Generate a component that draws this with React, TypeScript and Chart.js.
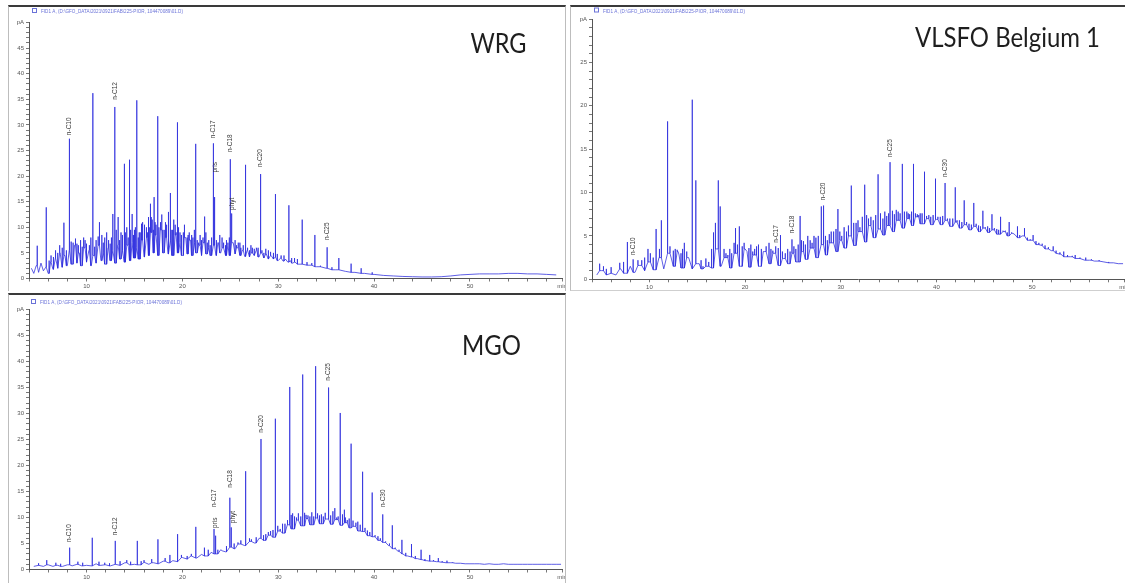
import React, { useEffect, useRef } from "react";
import { Chart, registerables } from "chart.js";

Chart.register(...registerables);
Chart.defaults.font.family = "Liberation Sans";

// ---------- shared axis values ----------
const X_MIN = 4;
const X_MAX = 59.6;
const HEADER = "FID1 A, (D:\\GFO_DATA\\2021\\0921\\FAB\\225-PIOR, 104470089\\01.D)";

// ---------- WRG ----------
const wrgNoiseStart = 4.25;
const wrgNoiseStep = 0.25;
const wrgNoise = [
  2.0, 1.0, 2.5, 1.2, 3.0, 1.5, 2.2, 1.0, 3.2, 1.8,
  4.0, 2.0, 5.0, 2.2, 4.5, 2.5, 5.5, 2.8, 6.5, 3.0,
  5.0, 2.5, 6.0, 3.2, 5.5, 2.5, 4.5, 3.0, 6.5, 3.5,
  5.0, 2.8, 6.0, 3.5, 5.5, 3.0, 6.5, 3.8, 5.5, 3.2,
  6.5, 3.5, 7.0, 4.0, 6.0, 3.8, 7.5, 4.2, 8.0, 4.5,
  9.0, 5.0, 8.5, 4.5, 9.5, 5.0, 8.0, 4.8, 7.5, 4.5,
  8.5, 5.0, 7.0, 4.5, 8.0, 4.8, 7.5, 4.5, 7.0, 5.0,
  6.5, 4.5, 7.0, 4.8, 6.0, 4.5, 6.5, 4.5, 7.0, 5.0,
  6.0, 4.5, 6.5, 4.5, 7.0, 4.8, 6.0, 4.5, 5.5, 4.3,
  5.5, 4.2, 5.0, 4.5, 6.0, 4.2, 5.0, 4.0, 4.8, 3.8,
  4.5, 3.8, 4.2, 3.5, 4.0, 3.4, 3.8, 3.2, 3.5, 3.0,
  3.2, 2.8,
];
const wrgTailStart = 33;
const wrgTailStep = 1;
const wrgTail = [
  2.6, 2.3, 2.0, 1.7, 1.4, 1.2, 1.0, 0.8, 0.6, 0.5, 0.4, 0.35, 0.3, 0.3,
  0.35, 0.5, 0.7, 0.8, 0.9, 0.9, 0.9, 1.0, 1.0, 0.9, 0.9, 0.8, 0.7,
];
const wrgPeakT = [
  4.86, 5.8, 6.3, 6.77, 7.2, 7.64, 8.2, 8.6, 8.85, 9.15, 9.38, 9.7, 10.0,
  10.66, 11.0, 11.35, 11.6, 11.9, 12.3, 12.74, 12.95, 13.3, 13.6, 13.93,
  14.2, 14.48, 14.76, 15.0, 15.24, 15.5, 15.73, 16.0, 16.25, 16.45, 16.67,
  16.85, 17.05, 17.25, 17.43, 17.7, 17.95, 18.23, 18.5, 18.75, 19.0, 19.25,
  19.48, 19.75, 20.1, 20.35, 20.6, 20.85, 21.1, 21.39, 21.7, 22.0, 22.32,
  22.6, 22.9, 23.23, 23.36, 23.7, 24.14, 24.5, 24.75, 25.0, 25.14, 25.5,
  25.83, 26.1, 26.59, 27.0, 27.3, 27.7, 28.16, 28.5, 28.96, 29.69, 30.3,
  31.11, 31.7, 32.5, 33.82, 35.1, 36.32, 37.6, 38.65, 39.8,
];
const wrgPeakV = [
  6.4, 13.9, 4.5, 5.5, 6.5, 10.9, 27.3, 7.0, 7.8, 6.5, 7.5, 8.0, 6.8,
  36.2, 7.5, 11.0, 8.5, 8.0, 7.5, 12.6, 33.5, 12.0, 9.0, 22.4,
  10.0, 23.2, 12.6, 9.5, 34.8, 9.0, 10.7, 9.5, 10.0, 12.0, 14.6,
  11.5, 15.9, 10.5, 31.7, 11.0, 9.5, 11.0, 10.0, 16.7, 9.5, 10.5,
  30.5, 9.0, 9.0, 8.0, 8.5, 7.5, 8.0, 26.3, 7.0, 7.5, 12.1,
  7.0, 6.5, 26.4, 15.9, 7.0, 8.0, 6.5, 7.0, 23.3, 12.7, 7.5,
  7.0, 6.0, 22.2, 5.5, 6.0, 5.5, 20.4, 5.0, 5.5, 16.5, 4.5,
  14.3, 4.0, 11.5, 8.5, 6.1, 4.0, 2.9, 2.0, 1.2,
];
// unresolved small peaks ("grass")
const wrgGrassT = [
  6.1, 6.55, 7.0, 7.45, 7.9, 8.4, 9.0, 9.55, 9.85, 10.3, 10.45, 10.85,
  11.2, 11.75, 12.1, 12.45, 12.6, 13.1, 13.45, 13.75, 14.05, 14.35, 14.6,
  14.9, 15.1, 15.4, 15.6, 15.85, 16.1, 16.35, 16.55, 16.75, 16.95, 17.15,
  17.55, 17.85, 18.1, 18.35, 18.6, 18.9, 19.1, 19.35, 19.6, 19.9, 20.2,
  20.5, 20.7, 20.95, 21.25, 21.55, 21.85, 22.15, 22.45, 22.75, 23.05,
  23.55, 23.9, 24.3, 24.6, 24.9, 25.3, 25.65, 26.0, 26.35, 26.8, 27.15,
  27.5, 27.9, 28.3, 28.7, 29.2, 29.5, 29.9, 30.6, 31.4, 32.0, 33.0, 33.5,
  34.4, 35.6,
];
const wrgGrassV = [
  3.5, 4.2, 5.0, 6.0, 5.5, 7.2, 6.8, 6.2, 7.5, 6.5, 8.0, 6.2,
  8.2, 7.0, 9.0, 6.8, 8.0, 9.5, 7.5, 8.5, 9.0, 8.0, 9.5,
  8.5, 10.0, 8.0, 9.0, 11.0, 10.5, 9.0, 10.0, 12.0, 9.5, 11.0,
  10.0, 12.5, 9.5, 10.5, 13.0, 9.5, 11.5, 9.0, 10.0, 8.5, 10.5,
  8.0, 9.0, 8.5, 9.5, 7.5, 8.5, 8.0, 9.0, 7.5, 8.0,
  7.5, 8.5, 7.0, 7.5, 8.0, 7.0, 6.5, 7.0, 6.5, 6.0, 6.5,
  5.8, 6.0, 5.5, 5.8, 5.2, 5.0, 4.8, 4.5, 4.0, 3.8, 3.2, 3.0,
  2.5, 2.2,
];
const wrgLabelText = ["n-C10", "n-C12", "n-C17", "pris", "n-C18", "phyt", "n-C20", "n-C25"];
const wrgLabelT = [8.2, 12.95, 23.23, 23.45, 25.0, 25.2, 28.16, 35.1];
const wrgLabelV = [28.0, 34.9, 27.4, 20.7, 24.7, 13.4, 21.8, 7.5];

// ---------- VLSFO Belgium 1 ----------
const vlsBaseStart = 4.5;
const vlsBaseStep = 0.5;
const vlsBase = [
  0.5, 1.0, 0.5, 0.7, 0.5, 1.2, 0.7, 1.5, 0.8, 1.6,
  1.0, 2.0, 1.1, 2.5, 1.2, 3.0, 1.5, 3.2, 1.3, 2.5,
  1.2, 1.8, 1.2, 1.5, 1.3, 3.5, 1.5, 2.5, 1.3, 3.0,
  1.5, 3.5, 1.4, 2.8, 1.5, 3.2, 1.8, 3.0, 1.6, 2.4,
  1.8, 3.0, 2.0, 3.2, 2.3, 3.6, 2.5, 4.0, 2.8, 4.2,
  3.2, 4.5, 3.6, 5.0, 3.9, 5.5, 4.3, 6.2, 4.8, 5.8,
  5.1, 6.2, 5.5, 6.8, 5.9, 7.0, 6.2, 7.2, 6.4, 7.0,
  6.3, 6.9, 6.3, 6.8, 6.1, 6.6, 5.9, 6.3, 5.7, 6.1,
  5.5, 5.9, 5.4, 5.7, 5.2, 5.5, 5.0, 5.3, 4.8, 5.0,
  4.5, 4.5, 4.0, 3.9, 3.5, 3.3, 3.0, 2.9, 2.6, 2.6,
  2.4, 2.4, 2.2, 2.2, 2.1, 2.1, 2.0, 1.9, 1.9, 1.8,
  1.8,
];
const vlsPeakT = [
  4.8, 5.5, 6.9, 7.7, 8.3, 9.2, 9.85, 10.4, 10.7, 11.05, 11.25, 11.9, 12.15,
  12.5, 12.9, 13.3, 13.65, 14.1, 14.47, 14.85, 15.2, 15.6, 16.2, 16.7, 16.9,
  17.2, 17.4, 17.8, 18.2, 18.6, 19.0, 19.4, 19.7, 20.0, 20.4, 20.8, 21.2,
  21.7, 22.5, 22.9, 23.2, 23.7, 24.2, 24.9, 25.3, 25.75, 26.1, 26.55, 27.0,
  27.4, 27.95, 28.2, 28.6, 29.0, 29.7, 30.1, 30.6, 31.1, 31.6, 32.0, 32.5,
  32.9, 33.4, 33.9, 34.4, 34.8, 35.15, 35.6, 36.0, 36.4, 36.9, 37.2, 37.6,
  38.0, 38.3, 38.75, 39.2, 39.9, 40.4, 40.9, 41.4, 41.95, 42.4, 42.9, 43.9,
  44.85, 45.8, 46.7, 47.6, 48.45, 49.2, 50.1, 51.05, 52.2, 53.3, 54.5, 55.6,
];
const vlsPeakV = [
  1.8, 1.2, 1.9, 4.3, 2.3, 2.2, 3.5, 2.5, 5.8, 3.5, 6.8, 18.2, 3.8,
  3.3, 3.4, 3.0, 4.2, 2.5, 20.7, 11.4, 1.8, 1.5, 2.0, 5.4, 6.5,
  11.4, 8.4, 3.5, 2.8, 3.0, 5.9, 6.1, 3.8, 3.5, 3.6, 3.2, 3.8,
  3.5, 4.2, 3.3, 3.8, 5.1, 3.0, 4.6, 3.5, 7.3, 4.4, 5.0, 4.2,
  4.8, 8.4, 8.5, 4.5, 5.5, 8.1, 5.0, 5.5, 10.8, 6.5, 6.0, 10.9,
  7.0, 6.8, 12.1, 7.0, 7.3, 13.5, 7.5, 7.8, 13.3, 7.8, 7.5, 13.3,
  7.5, 7.6, 12.4, 7.4, 11.6, 7.2, 11.1, 7.0, 10.6, 6.8, 9.1, 8.8,
  7.9, 7.5, 7.2, 6.6, 6.1, 5.9, 5.1, 4.1, 3.8, 3.2, 2.8, 2.5,
];
const vlsGrassT = [
  5.2, 6.0, 7.3, 8.8, 9.5, 10.1, 12.7, 13.1, 13.45, 13.9, 15.4, 15.9, 16.5,
  18.0, 18.4, 18.85, 19.2, 19.9, 20.2, 20.6, 21.0, 21.4, 21.9, 22.2, 22.7,
  23.45, 23.9, 24.45, 24.7, 25.1, 25.55, 25.9, 26.3, 26.8, 27.2, 27.65,
  28.4, 28.8, 29.25, 29.5, 29.9, 30.35, 30.8, 31.35, 31.8, 32.25, 32.7,
  33.15, 33.65, 34.15, 34.6, 35.0, 35.4, 35.8, 36.2, 36.65, 37.05, 37.4,
  37.8, 38.15, 38.5, 38.95, 39.4, 39.65, 40.15, 40.65, 41.15, 41.7, 42.15,
  42.65, 43.15, 43.4, 43.65, 44.15, 44.4, 44.6, 45.1, 45.35, 45.55, 46.05,
  46.3, 46.5, 46.95, 47.2, 47.4, 47.85, 48.1, 48.25, 48.7, 48.95, 49.5,
  49.8, 50.4, 50.7, 51.35, 51.7, 52.5, 52.9, 53.7, 54.2, 55.0, 56.2, 57.0,
  58.0,
];
const vlsGrassV = [
  1.5, 1.4, 2.0, 2.2, 2.5, 3.0, 3.5, 2.8, 3.5, 3.2, 2.2, 2.4, 3.5,
  3.0, 3.5, 4.2, 4.0, 4.2, 3.2, 4.0, 3.5, 4.0, 3.2, 3.8, 3.5,
  3.6, 3.2, 3.5, 3.2, 3.8, 4.0, 4.5, 4.0, 4.5, 5.0, 5.0,
  5.0, 5.2, 5.5, 5.8, 5.5, 6.0, 6.2, 6.5, 6.8, 7.2, 7.4,
  7.2, 7.4, 7.6, 7.8, 7.6, 7.9, 8.0, 7.6, 7.8, 7.6, 7.8,
  7.6, 7.4, 7.6, 7.3, 7.2, 7.4, 7.2, 7.3, 7.0, 7.0, 6.8,
  6.6, 6.6, 6.4, 6.3, 6.4, 6.2, 6.1, 6.0, 6.1, 5.9, 5.9,
  5.8, 5.7, 5.6, 5.6, 5.4, 5.4, 5.3, 5.1, 5.1, 5.0, 4.8,
  4.6, 4.4, 4.2, 3.9, 3.7, 3.3, 3.1, 2.8, 2.7, 2.5, 2.3, 2.2,
  2.0,
];
const vlsLabelText = ["n-C10", "n-C17", "n-C18", "n-C20", "n-C25", "n-C30"];
const vlsLabelT = [8.3, 23.2, 24.9, 28.2, 35.15, 40.9];
const vlsLabelV = [2.8, 4.2, 5.3, 9.1, 14.1, 11.8];

// ---------- MGO ----------
const mgoBaseStart = 4.5;
const mgoBaseStep = 0.5;
const mgoBase = [
  0.6, 0.8, 0.6, 0.9, 0.6, 0.8, 0.6, 0.9, 0.7, 1.0,
  0.7, 0.8, 0.7, 1.1, 0.8, 0.9, 0.7, 1.0, 0.8, 1.3,
  0.9, 1.0, 0.9, 1.4, 1.0, 1.3, 1.1, 1.6, 1.3, 1.7,
  1.5, 2.3, 2.0, 2.6, 2.2, 2.9, 2.6, 3.3, 3.0, 3.8,
  3.4, 4.3, 4.0, 4.9, 4.6, 5.4, 5.1, 6.0, 5.6, 6.6,
  6.2, 7.4, 7.0, 8.6, 7.8, 9.5, 8.4, 9.8, 8.6, 9.9,
  8.8, 9.7, 8.7, 9.6, 8.5, 9.0, 8.0, 8.3, 7.4, 7.3,
  6.5, 6.3, 5.6, 5.2, 4.6, 4.0, 3.5, 3.0, 2.6, 2.4,
  2.1, 1.9, 1.7, 1.6, 1.5, 1.4, 1.3, 1.3, 1.2, 1.2,
  1.1, 1.1, 1.1, 1.1, 1.0, 1.1, 1.0, 1.0, 1.1, 1.0,
  1.0, 1.0, 1.0, 1.0, 1.0, 1.0, 1.0, 1.0, 1.0, 1.0,
  1.0,
];
const mgoPeakT = [
  5.0, 5.85, 6.8, 8.24, 9.1, 9.6, 10.6, 11.3, 11.9, 13.0, 13.5, 14.2, 14.6,
  15.3, 16.0, 16.8, 17.45, 18.7, 19.5, 20.5, 21.4, 22.3, 23.3, 23.45, 24.15,
  24.95, 25.1, 25.8, 26.6, 27.2, 27.7, 28.2, 28.7, 29.2, 29.7, 30.2, 30.7,
  31.2, 31.5, 31.9, 32.55, 32.9, 33.3, 33.9, 34.3, 34.7, 35.25, 35.7, 36.1,
  36.45, 36.9, 37.2, 37.6, 38.1, 38.8, 39.3, 39.8, 40.4, 40.9, 41.9, 42.9,
  43.9, 44.9, 45.8, 46.7, 47.6,
];
const mgoPeakV = [
  1.2, 1.8, 1.3, 4.2, 1.5, 1.3, 6.1, 1.5, 1.3, 5.5, 1.6, 1.8, 1.5,
  5.5, 1.8, 2.0, 5.8, 2.8, 6.8, 2.6, 8.2, 4.2, 7.8, 6.5, 3.6,
  13.8, 8.1, 5.2, 18.9, 5.8, 6.2, 25.1, 6.8, 7.4, 29.0, 7.8, 8.8,
  35.1, 10.8, 10.0, 37.5, 10.5, 10.2, 39.1, 10.4, 10.2, 35.0, 11.2, 10.0,
  30.1, 11.5, 9.5, 24.2, 9.0, 18.8, 7.5, 14.8, 6.4, 10.6, 8.5, 5.7,
  4.9, 3.8, 2.8, 2.2, 1.7,
];
const mgoGrassT = [
  7.3, 12.4, 15.7, 18.2, 19.9, 20.9, 22.7, 23.7, 24.6, 25.4, 26.1, 27.0,
  28.45, 28.95, 29.45, 29.95, 30.45, 30.95, 31.35, 31.7, 32.1, 32.35, 32.75,
  33.1, 33.5, 33.7, 34.1, 34.5, 34.9, 35.45, 35.9, 36.25, 36.7, 37.0, 37.4,
  37.8, 38.3, 38.55, 39.05, 39.55, 40.1, 40.65, 41.2, 41.6, 42.2, 42.6,
  43.3, 44.3, 45.3, 46.2, 47.1, 48.2,
];
const mgoGrassV = [
  1.1, 1.2, 1.6, 2.2, 2.8, 3.0, 3.8, 3.8, 4.5, 5.0, 5.6, 6.0,
  6.6, 7.2, 7.6, 8.4, 8.8, 9.5, 10.5, 10.2, 10.8, 10.2, 10.9,
  10.4, 11.0, 10.2, 10.8, 10.6, 10.9, 10.4, 11.8, 10.2, 10.6, 10.0, 9.8,
  9.4, 9.2, 8.6, 8.0, 7.2, 6.6, 6.0, 5.4, 5.0, 4.2, 3.8,
  3.2, 2.6, 2.0, 1.8, 1.6, 1.4,
];
const mgoLabelText = ["n-C10", "n-C12", "n-C17", "pris", "n-C18", "phyt", "n-C20", "n-C25", "n-C30"];
const mgoLabelT = [8.24, 13.0, 23.3, 23.45, 24.95, 25.3, 28.2, 35.25, 40.9];
const mgoLabelV = [5.3, 6.6, 12.0, 8.0, 15.7, 8.9, 26.3, 36.3, 12.0];

// ---------- helpers ----------
type Pt = { x: number; y: number; o: number };

function sampleTimes(start: number, step: number, n: number) {
  const out: number[] = [];
  for (let i = 0; i < n; i++) out.push(+(start + i * step).toFixed(3));
  return out;
}

function buildTrace(baseT: number[], baseV: number[], peakT: number[], peakV: number[]) {
  const pts: Pt[] = [];
  baseT.forEach((t, i) => pts.push({ x: t, y: baseV[i], o: 0 }));
  peakT.forEach((t, i) => {
    let b = 0;
    for (let j = 1; j < baseT.length; j++) {
      if (Math.abs(baseT[j] - t) < Math.abs(baseT[b] - t)) b = j;
    }
    const base = Math.min(baseV[b], peakV[i]);
    pts.push({ x: t, y: base, o: 1 }, { x: t, y: peakV[i], o: 2 }, { x: t, y: base, o: 3 });
  });
  pts.sort((a, b) => a.x - b.x || a.o - b.o);
  return pts.map((p) => ({ x: p.x, y: p.y }));
}

type PanelCfg = {
  left: number;
  top: number;
  width: number;
  height: number;
  pad: { left: number; right: number; top: number; bottom: number };
  yAxisW: number;
  xAxisH: number;
  yMax: number;
  data: { x: number; y: number }[];
  labelText: string[];
  labelT: number[];
  labelV: number[];
  title: string;
  titleX: number;
  titleY: number;
  titleW: number;
  hdrX: number;
  hdrY: number;
  frame: React.CSSProperties;
};

const wrgT = [
  ...sampleTimes(wrgNoiseStart, wrgNoiseStep, wrgNoise.length),
  ...sampleTimes(wrgTailStart, wrgTailStep, wrgTail.length),
];
const wrgV = [...wrgNoise, ...wrgTail];

const panels: PanelCfg[] = [
  {
    left: 8, top: 5, width: 558, height: 286,
    pad: { left: 3, right: 4, top: 17.5, bottom: 0.5 },
    yAxisW: 18, xAxisH: 12, yMax: 50,
    data: buildTrace(wrgT, wrgV, [...wrgPeakT, ...wrgGrassT], [...wrgPeakV, ...wrgGrassV]),
    labelText: wrgLabelText, labelT: wrgLabelT, labelV: wrgLabelV,
    title: "WRG", titleX: 462.5, titleY: 48, titleW: 56,
    hdrX: 24, hdrY: 3,
    frame: {
      borderTop: "2px solid #3a3a3a",
      borderLeft: "1px solid #bdbdbd",
      borderRight: "1px solid #bdbdbd",
    },
  },
  {
    left: 570, top: 5, width: 555, height: 286,
    pad: { left: 4, right: 1, top: 14, bottom: 0 },
    yAxisW: 18, xAxisH: 11.7, yMax: 30,
    data: buildTrace(
      sampleTimes(vlsBaseStart, vlsBaseStep, vlsBase.length),
      vlsBase,
      [...vlsPeakT, ...vlsGrassT],
      [...vlsPeakV, ...vlsGrassV]
    ),
    labelText: vlsLabelText, labelT: vlsLabelT, labelV: vlsLabelV,
    title: "VLSFO Belgium 1", titleX: 345, titleY: 41.7, titleW: 185,
    hdrX: 24, hdrY: 2.5,
    frame: {
      borderTop: "2px solid #3a3a3a",
      borderLeft: "1px solid #bdbdbd",
      borderBottom: "1px solid #cfcfcf",
    },
  },
  {
    left: 8, top: 293, width: 558, height: 290,
    pad: { left: 3, right: 4, top: 16.5, bottom: 1.5 },
    yAxisW: 18, xAxisH: 12, yMax: 50,
    data: buildTrace(
      sampleTimes(mgoBaseStart, mgoBaseStep, mgoBase.length),
      mgoBase,
      [...mgoPeakT, ...mgoGrassT],
      [...mgoPeakV, ...mgoGrassV]
    ),
    labelText: mgoLabelText, labelT: mgoLabelT, labelV: mgoLabelV,
    title: "MGO", titleX: 454, titleY: 62, titleW: 59,
    hdrX: 23, hdrY: 6,
    frame: {
      borderTop: "2px solid #3a3a3a",
      borderLeft: "1px solid #bdbdbd",
      borderRight: "1px solid #bdbdbd",
    },
  },
];

function Panel({ cfg }: { cfg: PanelCfg }) {
  const ref = useRef<HTMLCanvasElement>(null);

  useEffect(() => {
    const canvas = ref.current;
    if (!canvas) return;

    const decor = {
      id: "decor",
      afterDraw(chart: any) {
        const ctx: CanvasRenderingContext2D = chart.ctx;
        const xs = chart.scales.x;
        const ys = chart.scales.y;
        ctx.save();
        // header line
        ctx.strokeStyle = "#6a72d8";
        ctx.lineWidth = 1;
        ctx.strokeRect(cfg.hdrX + 0.5, cfg.hdrY + 0.5, 4, 4);
        ctx.fillStyle = "#6a72d8";
        ctx.font = "5.5px 'Liberation Sans'";
        ctx.textBaseline = "alphabetic";
        ctx.textAlign = "left";
        ctx.fillText(HEADER, cfg.hdrX + 9, cfg.hdrY + 5, 142);
        // title
        ctx.fillStyle = "#1e1e1e";
        ctx.font = "27px Lato";
        ctx.fillText(cfg.title, cfg.titleX, cfg.titleY, cfg.titleW);
        // peak labels
        ctx.fillStyle = "#3a3a3a";
        ctx.font = "6.5px 'Liberation Sans'";
        ctx.textBaseline = "middle";
        cfg.labelText.forEach((txt, i) => {
          const px = xs.getPixelForValue(cfg.labelT[i]);
          const py = ys.getPixelForValue(cfg.labelV[i]);
          ctx.save();
          ctx.translate(px, py);
          ctx.rotate(-Math.PI / 2);
          ctx.fillText(txt, 0, 0);
          ctx.restore();
        });
        ctx.restore();
      },
    };

    const chart = new Chart(canvas, {
      type: "line",
      data: {
        datasets: [
          {
            data: cfg.data,
            borderColor: "rgba(40,40,220,0.75)",
            borderWidth: 1,
            pointRadius: 0,
            tension: 0,
            fill: false,
          },
        ],
      },
      options: {
        animation: false,
        responsive: false,
        maintainAspectRatio: false,
        layout: { padding: cfg.pad },
        plugins: {
          legend: { display: false },
          tooltip: { enabled: false },
        },
        scales: {
          x: {
            type: "linear",
            min: X_MIN,
            max: X_MAX,
            afterBuildTicks: (s: any) => {
              const arr: { value: number }[] = [];
              for (let v = 4; v <= 58; v += 2) arr.push({ value: v });
              arr.push({ value: X_MAX });
              s.ticks = arr;
            },
            afterFit: (s: any) => {
              s.height = cfg.xAxisH;
              s.paddingLeft = 0;
              s.paddingRight = 0;
            },
            ticks: {
              autoSkip: false,
              maxRotation: 0,
              minRotation: 0,
              padding: 1,
              color: "#555",
              font: { size: 6 },
              callback: (v: any) => {
                const n = Number(v);
                if (n === X_MAX) return "min";
                return n % 10 === 0 ? String(n) : "";
              },
            },
            grid: { drawOnChartArea: false, drawTicks: true, tickLength: 3, color: "#777" },
            border: { display: true, color: "#555", width: 1 },
          },
          y: {
            type: "linear",
            min: 0,
            max: cfg.yMax,
            afterBuildTicks: (s: any) => {
              const arr: { value: number }[] = [];
              for (let v = 0; v <= cfg.yMax; v += 1) arr.push({ value: v });
              s.ticks = arr;
            },
            afterFit: (s: any) => {
              s.width = cfg.yAxisW;
              s.paddingTop = 0;
              s.paddingBottom = 0;
            },
            ticks: {
              autoSkip: false,
              padding: 2,
              color: "#555",
              font: { size: 6 },
              callback: (v: any) => {
                const n = Number(v);
                if (n === cfg.yMax) return "pA";
                return n % 5 === 0 ? String(n) : "";
              },
            },
            grid: { drawOnChartArea: false, drawTicks: true, tickLength: 3, color: "#777" },
            border: { display: true, color: "#555", width: 1 },
          },
        },
      },
      plugins: [decor],
    } as any);

    return () => chart.destroy();
  }, [cfg]);

  return (
    <>
      <canvas
        ref={ref}
        width={cfg.width}
        height={cfg.height}
        style={{
          position: "absolute",
          left: cfg.left,
          top: cfg.top,
          width: cfg.width,
          height: cfg.height,
        }}
      />
      <div
        style={{
          position: "absolute",
          left: cfg.left,
          top: cfg.top,
          width: cfg.width,
          height: cfg.height,
          boxSizing: "border-box",
          pointerEvents: "none",
          ...cfg.frame,
        }}
      />
    </>
  );
}

export default function App() {
  return (
    <div
      style={{
        position: "absolute",
        left: 0,
        top: 0,
        width: 1125,
        height: 583,
        overflow: "hidden",
        background: "#fff",
      }}
    >
      {panels.map((p, i) => (
        <Panel key={i} cfg={p} />
      ))}
    </div>
  );
}
